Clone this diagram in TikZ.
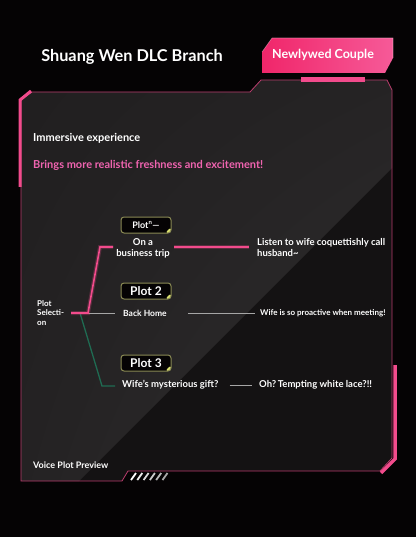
\documentclass[tikz,border=0pt]{standalone}
\usepackage{fontspec}
\setmainfont{Lato}
\usetikzlibrary{shadings}
\definecolor{bgblack}{HTML}{050304}
\definecolor{paneldark}{HTML}{141213}
\definecolor{panellight}{HTML}{242223}
\definecolor{hotpink}{HTML}{F24B8C}
\definecolor{rimpink}{HTML}{B83C6C}
\definecolor{tagA}{HTML}{F0266A}
\definecolor{tagB}{HTML}{F65A98}
\definecolor{softpink}{HTML}{F064B0}
\definecolor{pinegreen}{HTML}{1F6B52}
\definecolor{olive}{HTML}{8A8A54}
\definecolor{lime}{HTML}{D9E06E}
\tikzset{
  txt/.style={text=white,font=\bfseries,inner sep=0pt,anchor=west},
  plotbox/.style={draw=olive,fill=bgblack,line width=1pt,rounded corners=3pt,
    minimum width=50pt,minimum height=16pt,inner sep=0pt,text=white,
    path picture={\fill[lime] ([xshift=-6pt]path picture bounding box.south east)
      -- (path picture bounding box.south east)
      -- ([yshift=6pt]path picture bounding box.south east) -- cycle;}},
  pinkline/.style={hotpink,line width=1.6pt},
  glow/.style={hotpink,line width=4pt,opacity=0.25}
}
\begin{document}
\begin{tikzpicture}[x=1pt,y=-1pt]
\fill[bgblack] (0,0) rectangle (416,537);
\useasboundingbox (0,0) rectangle (416,537);

% panel
\fill[paneldark] (21,100) -- (32,92) -- (250,92) -- (261,80) -- (387,80) -- (392,90)
  -- (392,458) -- (380,471) -- (128,471) -- (122,481) -- (21,481) -- cycle;
\begin{scope}
\clip (21,100) -- (32,92) -- (250,92) -- (261,80) -- (387,80) -- (392,90)
  -- (392,458) -- (380,471) -- (128,471) -- (122,481) -- (21,481) -- cycle;
\shade[upper left=panellight!75!paneldark,upper right=panellight,
  lower left=panellight,lower right=panellight!90!white] (0,0) -- (560,0) -- (0,560) -- cycle;
\end{scope}
\draw[rimpink,line width=0.8pt] (21,100) -- (32,92) -- (250,92) -- (261,80) -- (387,80)
  -- (392,90) -- (392,458) -- (380,471) -- (128,471) -- (122,481) -- (21,481) -- cycle;
\draw[hotpink,line width=3pt] (20,187) -- (20,100) -- (31,91);
\draw[hotpink,line width=3.5pt] (395,365) -- (395,459) -- (381,473);
\foreach \i in {0,...,5}{
  \pgfmathtruncatemacro{\shadeval}{100-\i*14}
  \draw[white!\shadeval!gray,line width=1.8pt] (131+\i*6.3,480) -- (136+\i*6.3,473);
}

% title and tag
\node[txt,anchor=center,font=\bfseries\fontsize{16.3}{20}\selectfont] (title) at (132,57) {Shuang Wen DLC Branch};
\shade[left color=tagA,right color=tagB] (262,52) -- (272,38) -- (393,38) -- (393,58)
  -- (385,73) -- (262,73) -- cycle;
\draw[white,opacity=0.35,line width=0.6pt] (262,52) -- (272,38) -- (393,38) -- (393,58);
\node[txt,anchor=center,font=\bfseries\fontsize{12.5}{15}\selectfont] (tag) at (323,55) {Newlywed Couple};
\fill[hotpink] (301,77) rectangle (365,82);

\node[txt,font=\bfseries\fontsize{11}{13}\selectfont] (intro) at (33,138) {Immersive experience};
\node[txt,text=softpink,font=\bfseries\fontsize{11}{13}\selectfont] (hook) at (33,165) {Brings more realistic freshness and excitement!};

% tree
\node[txt,align=left,font=\bfseries\fontsize{8}{9.5}\selectfont] (sel) at (37,313) {Plot\\Selecti-\\on};
\coordinate (root) at (71,313);
\coordinate (fork) at (88,313);
\node[plotbox,font=\bfseries\fontsize{9}{10}\selectfont] (p1) at (146,225) {Plot\textsuperscript{n}—};
\node[plotbox,font=\bfseries\fontsize{12}{14}\selectfont] (p2) at (146,291) {Plot 2};
\node[plotbox,font=\bfseries\fontsize{12}{14}\selectfont] (p3) at (146,363) {Plot 3};
\node[txt,anchor=center,align=center,font=\bfseries\fontsize{9.5}{11}\selectfont] (b1) at (143,248) {On a\\business trip};
\node[txt,font=\bfseries\fontsize{8.5}{10}\selectfont] (b2) at (123,313) {Back Home};
\node[txt,font=\bfseries\fontsize{9.5}{11}\selectfont] (b3) at (122,385) {Wife's mysterious gift?};
\node[txt,align=left,font=\bfseries\fontsize{9.5}{11}\selectfont] (r1) at (257,248) {Listen to wife coquettishly call\\husband\textasciitilde};
\node[txt,font=\bfseries\fontsize{8}{9.5}\selectfont] (r2) at (260,313) {Wife is so proactive when meeting!};
\node[txt,font=\bfseries\fontsize{9.5}{11}\selectfont] (r3) at (259,385) {Oh?\,Tempting white lace?!!};

\draw[gray!70,line width=0.8pt,shorten >=8pt] (fork) -- (b2.west);
\draw[pinegreen,line width=1.3pt,shorten >=7pt] (80,313) -- (102,386) -- (b3.west |- 0,386);
\draw[glow] (root) -- (fork) -- (100,247) -- ([xshift=-3pt]b1.west |- 0,247);
\draw[pinkline] (root) -- (fork) -- (100,247) -- ([xshift=-3pt]b1.west |- 0,247);
\draw[glow,shorten <=4pt,shorten >=8pt] (b1.east |- 0,247) -- (r1.west |- 0,247);
\draw[pinkline,shorten <=4pt,shorten >=8pt] (b1.east |- 0,247) -- (r1.west |- 0,247);
\draw[gray!70,line width=0.8pt,shorten <=21pt,shorten >=5pt] (b2.east) -- (r2.west);
\draw[gray!70,line width=0.8pt,shorten <=11pt,shorten >=7pt] (b3.east) -- (r3.west);

\node[txt,font=\bfseries\fontsize{9}{11}\selectfont] (foot) at (33,465) {Voice Plot Preview};
\end{tikzpicture}
\end{document}
